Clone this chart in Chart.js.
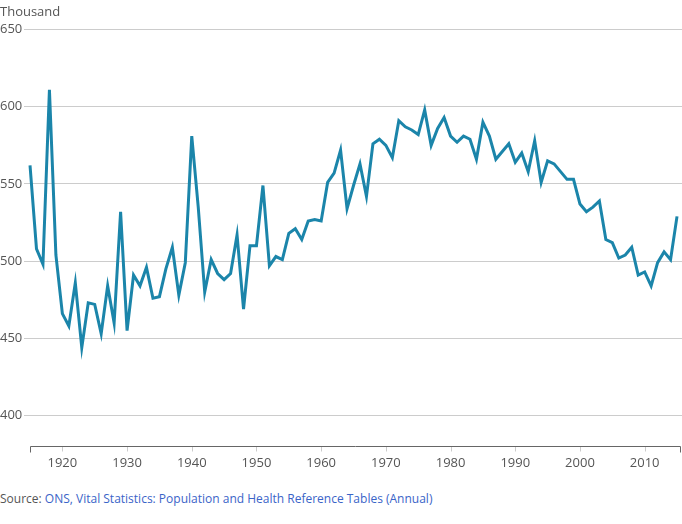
<!DOCTYPE html>
<html>
<head>
<meta charset="utf-8">
<script src="https://cdn.jsdelivr.net/npm/chart.js@4.4.0/dist/chart.umd.min.js"></script>
<style>
  body { margin: 0; background: #fff; font-family: "Open Sans", sans-serif; }
  #wrap { position: relative; width: 682px; height: 480px; }
  .source { position: absolute; left: 0; top: 490px; font-size: 12px; color: #555; }
  .source a { color: #3a64c8; text-decoration: none; }
</style>
</head>
<body>
<div id="wrap"><canvas id="myChart"></canvas></div>
<div class="source">Source: <a>ONS, Vital Statistics: Population and Health Reference Tables (Annual)</a></div>
<script>
// deaths registered per year, thousands
var years = [];
for (var y = 1915; y <= 2015; y++) years.push(y);

var deaths = [
  562, 508, 498, 611, 504, 466, 458, 486, 444, 473,   // 1915-1924
  472, 453, 484, 460, 532, 455, 491, 484, 496, 476,   // 1925-1934
  477, 495, 509, 478, 499, 581, 535, 480, 501, 492,   // 1935-1944
  488, 492, 517, 469, 510, 510, 549, 497, 503, 501,   // 1945-1954
  518, 521, 514, 526, 527, 526, 551, 557, 572, 534,   // 1955-1964
  549, 563, 542, 576, 579, 575, 567, 591, 587, 585,   // 1965-1974
  582, 598, 575, 586, 593, 581, 577, 581, 579, 566,   // 1975-1984
  590, 581, 566, 571, 576, 564, 570, 558, 578, 551,   // 1985-1994
  565, 563, 558, 553, 553, 537, 532, 535, 539, 514,   // 1995-2004
  512, 502, 504, 509, 491, 493, 484, 499, 506, 501,   // 2005-2014
  529                                                 // 2015
];

var xTicks = [1920, 1930, 1940, 1950, 1960, 1970, 1980, 1990, 2000, 2010];
var yTicks = [400, 450, 500, 550, 600, 650];

var points = years.map(function (yr, i) { return { x: yr, y: deaths[i] }; });

// x axis line with end ticks and faint decade ticks
var axisLine = {
  id: "axisLine",
  afterDraw: function (chart) {
    var c = chart.ctx;
    var xs = chart.scales.x;
    var yb = Math.round(chart.chartArea.bottom) + 0.5;
    var x0 = Math.round(xs.getPixelForValue(years[0])) + 0.5;
    var x1 = Math.round(chart.chartArea.right) - 1.5;
    c.save();
    c.lineWidth = 1;
    c.strokeStyle = "#cccccc";
    xTicks.forEach(function (v) {
      var px = Math.round(xs.getPixelForValue(v)) + 0.5;
      c.beginPath();
      c.moveTo(px, yb);
      c.lineTo(px, yb + 5);
      c.stroke();
    });
    c.strokeStyle = "#666";
    c.beginPath();
    c.moveTo(x0, yb + 6);
    c.lineTo(x0, yb);
    c.lineTo(x1, yb);
    c.lineTo(x1, yb + 6);
    c.stroke();
    c.restore();
  },
};

var ctx = document.getElementById("myChart").getContext("2d");
var myChart = new Chart(ctx, {
  type: "line",
  data: {
    datasets: [
      {
        label: "Deaths",
        data: points,
        borderColor: "#1b85aa",
        borderWidth: 3,
        pointRadius: 0,
        tension: 0,
        fill: false,
      },
    ],
  },
  options: {
    responsive: true,
    maintainAspectRatio: false,
    animation: false,
    layout: { padding: { left: 0, right: 0, top: 0, bottom: 0 } },
    plugins: {
      legend: { display: false },
      tooltip: { enabled: false },
      title: {
        display: true,
        text: "Thousand",
        align: "start",
        color: "#555",
        font: { family: "Open Sans", size: 13, weight: "normal" },
        padding: { top: 4, bottom: 10 },
      },
    },
    scales: {
      x: {
        type: "linear",
        min: 1914.07,
        max: 2015.77,
        afterBuildTicks: function (scale) {
          scale.ticks = xTicks.map(function (v) { return { value: v }; });
        },
        grid: { display: false, drawTicks: false },
        border: { display: false },
        ticks: {
          color: "#555",
          font: { family: "Open Sans", size: 13 },
          padding: 9,
          maxRotation: 0,
          callback: function (v) { return String(v); },
        },
      },
      y: {
        min: 380,
        max: 650,
        afterBuildTicks: function (scale) {
          scale.ticks = yTicks.map(function (v) { return { value: v }; });
        },
        afterFit: function (scale) { scale.width = 24; },
        grid: { color: "#cccccc", lineWidth: 1, drawTicks: false },
        border: { display: false },
        ticks: {
          color: "#555",
          font: { family: "Open Sans", size: 13 },
          padding: 0,
          crossAlign: "far",
        },
      },
    },
  },
  plugins: [axisLine],
});
</script>
</body>
</html>
